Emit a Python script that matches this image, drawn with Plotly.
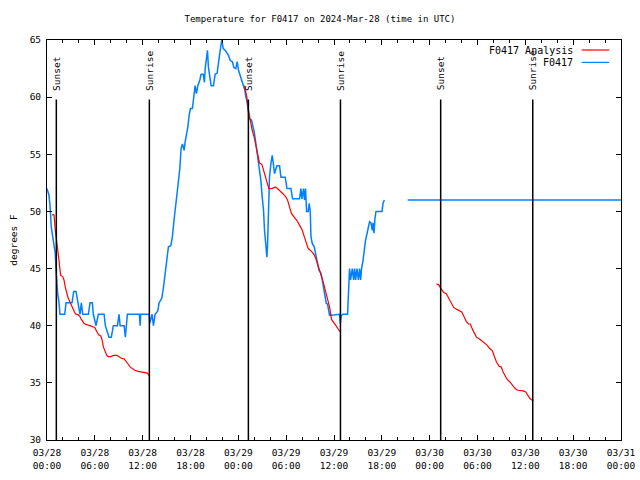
import pandas as pd
import plotly.graph_objects as go

BASE = pd.Timestamp("2024-03-28 00:00")

# F0417 observations: hours since 2024-03-28 00:00 UTC, temperature (deg F)
obs_hours = [0.00, 0.25, 0.38, 0.54, 0.72, 0.88, 1.04, 1.13, 1.22, 1.34, 1.51, 1.63, 2.22, 2.39, 3.14,
             3.35, 3.64, 3.80, 3.98, 4.14, 4.31, 4.48, 5.19, 5.40, 5.69, 5.81, 6.15, 6.44, 7.16, 7.32,
             7.78, 8.07, 8.32, 8.83, 9.04, 9.17, 9.67, 9.83, 10.08, 11.59, 11.68, 11.76, 12.81, 12.89,
             13.18, 13.35, 13.56, 13.90, 14.06, 14.40, 14.60, 14.81, 15.03, 15.23, 15.53, 15.73, 15.91,
             16.07, 16.28, 16.48, 16.66, 16.82, 16.99, 17.20, 17.33, 17.49, 17.67, 17.83, 17.99, 18.24,
             18.42, 18.58, 18.74, 18.92, 19.17, 19.33, 19.59, 19.75, 19.84, 20.00, 20.13, 20.25, 20.38,
             20.59, 20.88, 21.09, 21.34, 21.51, 21.72, 21.93, 22.10, 22.35, 22.76, 22.98, 23.26, 23.44,
             23.69, 23.85, 24.02, 24.23, 24.45, 24.65, 24.82, 24.95, 25.07, 25.24, 25.40, 25.65, 25.83,
             25.99, 26.15, 26.33, 26.49, 26.65, 26.83, 26.99, 27.16, 27.28, 27.46, 27.58, 27.66, 27.78,
             27.91, 28.09, 28.25, 28.37, 28.54, 28.66, 28.84, 29.17, 29.34, 29.88, 30.10, 30.60, 30.80,
             31.68, 31.85, 31.98, 32.18, 32.30, 32.43, 32.56, 32.77, 32.89, 33.02, 33.11, 33.27, 33.52,
             33.77, 33.94, 34.11, 34.36, 34.53, 34.69, 34.87, 35.03, 35.19, 35.44, 36.70, 36.79, 36.91,
             37.12, 37.70, 37.75, 37.88, 37.95, 38.08, 38.17, 38.29, 38.46, 38.58, 38.71, 38.88, 39.05,
             39.21, 39.34, 39.46, 39.64, 39.80, 39.96, 40.14, 40.30, 40.46, 40.64, 40.80, 40.89, 41.02,
             41.14, 41.27, 42.02, 42.15, 42.31, None, 45.24, 72.00]
obs_temp = [52.0, 51.4, 50.5, 48.6, 47.8, 47.2, 46.3, 44.9, 43.5, 42.8, 42.0, 41.0, 41.0, 42.0, 42.0,
            43.0, 43.0, 42.4, 41.4, 41.0, 42.0, 41.0, 41.0, 42.0, 42.0, 41.0, 40.0, 41.0, 41.0, 40.0,
            39.0, 39.0, 40.0, 40.0, 41.0, 40.0, 40.0, 39.0, 41.0, 41.0, 40.0, 41.0, 41.0, 40.2,
            41.0, 40.0, 41.0, 41.3, 42.0, 42.4, 43.3, 44.4, 45.6, 46.9, 47.0, 47.8, 49.1,
            50.25, 51.4, 52.6, 53.75, 55.5, 55.9, 55.35, 56.1, 56.7, 57.4, 58.4, 59.0, 59.0,
            60.0, 61.0, 60.3, 61.0, 61.5, 62.0, 62.0, 61.3, 62.5, 63.5, 64.1, 62.6, 61.9,
            61.0, 61.0, 62.0, 62.1, 63.1, 64.1, 65.0, 64.25, 64.1, 63.65, 63.2, 63.1, 62.6,
            62.5, 63.1, 62.35, 61.9, 61.4, 61.0, 60.6, 60.0, 59.7, 58.85, 58.1, 58.0, 57.5,
            56.95, 56.2, 55.35, 54.5, 53.6, 52.7, 51.3, 50.1, 48.4, 47.2, 46.0, 46.9, 50.7,
            53.0, 54.2, 54.9, 54.3, 53.3, 53.6, 54.0, 54.0, 53.0, 53.0, 52.0, 52.0, 51.1,
            51.1, 52.0, 51.1, 52.0, 51.0, 52.0, 50.0, 50.0, 50.7, 50.0, 47.8, 47.2, 46.9,
            46.2, 45.45, 44.85, 44.6, 44.0, 43.4, 42.5, 41.95, 41.9, 40.9, 41.0, 40.2, 40.9,
            41.0, 41.0, 42.0, 44.0, 45.0, 44.0, 44.6, 45.0, 44.0, 45.0, 44.0, 45.0, 44.0,
            45.0, 44.0, 45.0, 45.7, 46.75, 47.5, 48.05, 48.65, 49.1, 49.0, 48.35, 49.0, 48.1,
            49.4, 50.0, 50.0, 50.7, 51.0, None, 51.0, 51.0]

# F0417 Analysis (night-time segments)
ana_hours = [0.63, 0.88, 1.04, 1.22, 1.34, 1.51, 1.63, 1.72, 1.97, 2.13, 2.30, 2.47, 2.64, 2.80, 2.98,
             3.14, 3.30, 3.55, 3.93, 4.14, 4.31, 4.48, 4.65, 4.98, 5.31, 5.65, 5.99, 6.24, 6.49, 6.74,
             6.91, 7.07, 7.28, 7.50, 7.66, 8.00, 8.32, 8.75, 9.00, 9.33, 9.67, 9.92, 10.17, 10.42,
             10.67, 11.01, 11.43, 11.93, 12.34, 12.59, 12.84, None,
             24.77, 25.07, 25.27, 25.49, 25.74, 25.99, 26.24, 26.45, 26.65, 26.96, 27.16, 27.37, 27.58,
             27.83, 28.21, 28.63, 28.91, 29.25, 29.59, 29.92, 30.17, 30.42, 30.67, 31.01, 31.35, 31.68,
             32.02, 32.27, 32.52, 32.77, 33.11, 33.43, 33.69, 33.94, 34.19, 34.44, 34.69, 34.94, 35.19,
             35.44, 35.69, 36.03, 36.37, 36.79, None,
             48.84, 49.13, 49.43, 49.76, 50.09, 50.38, 50.69, 51.01, 51.35, 51.69, 52.02, 52.27, 52.61,
             52.86, 53.11, 53.36, 53.61, 53.86, 54.20, 54.53, 54.87, 55.20, 55.53, 55.87, 56.12, 56.37,
             56.71, 56.96, 57.21, 57.46, 57.72, 58.04, 58.38, 58.72, 59.05, 59.39, 59.72, 60.05, 60.30,
             60.56, 60.80, 61.06]
ana_temp = [49.7, 49.7, 48.35, 47.5, 46.6, 45.7, 44.9, 44.4, 44.3, 44.0, 43.35, 42.8, 42.45, 42.2, 41.95,
            41.65, 41.4, 41.05, 40.95, 40.8, 40.55, 40.3, 40.2, 40.1, 40.0, 39.9, 39.85, 39.5, 39.2, 39.1,
            38.75, 38.15, 37.7, 37.4, 37.3, 37.3, 37.4, 37.4, 37.3, 37.15, 37.1, 36.9, 36.65, 36.4,
            36.25, 36.1, 36.0, 35.95, 35.9, 35.85, 35.6, None,
            61.0, 60.0, 58.85, 58.0, 57.1, 56.5, 55.6, 54.75, 54.25, 54.1, 53.6, 53.0, 52.5,
            52.0, 52.0, 52.15, 52.0, 51.8, 51.55, 51.3, 51.0, 50.4, 49.8, 49.5, 49.2, 48.8,
            48.35, 47.8, 47.2, 46.75, 46.55, 46.3, 45.95, 45.45, 44.85, 44.3, 43.7, 42.95, 42.2,
            41.65, 40.55, 40.2, 39.9, 39.45, None,
            43.65, 43.6, 43.25, 42.9, 42.8, 42.4, 41.9, 41.6, 41.45, 41.3, 41.2, 40.85, 40.35,
            40.15, 40.15, 39.7, 39.3, 39.0, 38.85, 38.65, 38.45, 38.3, 38.0, 37.8, 37.3, 36.85,
            36.45, 36.4, 35.95, 35.6, 35.3, 35.1, 34.8, 34.5, 34.35, 34.35, 34.3, 34.2, 33.9,
            33.65, 33.5, 33.5]

sun_hours = [1.17, 12.84, 25.26, 36.81, 49.38, 60.93]
sun_labels = ["Sunset", "Sunrise", "Sunset", "Sunrise", "Sunset", "Sunrise"]
sun_line_top = 59.8
sun_label_base = 60.4

tick_hours = [0, 6, 12, 18, 24, 30, 36, 42, 48, 54, 60, 66, 72]
tick_labels = ["03/28<br>00:00", "03/28<br>06:00", "03/28<br>12:00", "03/28<br>18:00",
               "03/29<br>00:00", "03/29<br>06:00", "03/29<br>12:00", "03/29<br>18:00",
               "03/30<br>00:00", "03/30<br>06:00", "03/30<br>12:00", "03/30<br>18:00",
               "03/31<br>00:00"]


def to_time(hours):
    return [None if h is None else BASE + pd.Timedelta(hours=h) for h in hours]


FONT = "DejaVu Sans Mono"
BLUE = "#0080ff"
RED = "#ff0000"

W, H = 640, 480

fig = go.Figure()
fig.add_trace(go.Scatter(x=to_time(obs_hours), y=obs_temp, mode="lines", name="F0417",
                         line=dict(color=BLUE, width=1.5), connectgaps=False, showlegend=False))
fig.add_trace(go.Scatter(x=to_time(ana_hours), y=ana_temp, mode="lines", name="F0417 Analysis",
                         line=dict(color=RED, width=1.2), connectgaps=False, showlegend=False))

sun_times = to_time(sun_hours)
for t, lab in zip(sun_times, sun_labels):
    fig.add_shape(type="line", xref="x", yref="y", x0=t, x1=t, y0=30, y1=sun_line_top,
                  line=dict(color="black", width=1.5))
    fig.add_annotation(x=t, y=sun_label_base, xref="x", yref="y", text=lab, textangle=-90,
                       showarrow=False, xanchor="center", yanchor="bottom",
                       font=dict(family=FONT, size=9.5, color="black"))

# legend (text left of sample line, gnuplot style)
legend_items = [("F0417 Analysis", RED, 0.975), ("F0417", BLUE, 0.944)]
for name, col, yy in legend_items:
    fig.add_annotation(x=0.919, y=yy, xref="paper", yref="paper", text=name, showarrow=False,
                       xanchor="right", yanchor="middle", font=dict(family=FONT, size=10, color="black"))
    fig.add_shape(type="line", xref="paper", yref="paper", x0=0.9315, x1=0.9796, y0=yy, y1=yy,
                  line=dict(color=col, width=1.2))

fig.update_layout(
    width=W, height=H, autosize=False,
    margin=dict(l=47, r=19, t=40, b=40),
    paper_bgcolor="white", plot_bgcolor="white",
    font=dict(family=FONT, size=9.5, color="black"),
    title=dict(text="Temperature for F0417 on 2024-Mar-28 (time in UTC)", x=0.5, xanchor="center",
               y=1 - 19 / H, yanchor="middle", font=dict(family=FONT, size=9, color="black")),
    showlegend=False,
)
fig.update_xaxes(
    range=[BASE, BASE + pd.Timedelta(hours=72)],
    tickmode="array", tickvals=to_time(tick_hours), ticktext=tick_labels,
    ticks="inside", ticklen=5, tickcolor="black", tickwidth=1,
    minor=dict(tickmode="linear", tick0=BASE, dtick=2 * 3600 * 1000, ticks="inside", ticklen=3,
               tickcolor="black", tickwidth=1, showgrid=False),
    showline=True, linecolor="black", linewidth=1, mirror="ticks",
    showgrid=False, zeroline=False, tickfont=dict(family=FONT, size=9.5),
    ticklabelstandoff=4, ticklabeloverflow="allow", automargin=False,
)
fig.update_yaxes(
    range=[30, 65], tickmode="linear", tick0=30, dtick=5,
    ticks="inside", ticklen=5, tickcolor="black", tickwidth=1,
    showline=True, linecolor="black", linewidth=1, mirror="ticks",
    showgrid=False, zeroline=False, tickfont=dict(family=FONT, size=9.5),
    ticklabelstandoff=3, automargin=False,
    title=dict(text="degrees F", standoff=10, font=dict(family=FONT, size=9.5)),
)

# remove the default page margin so the 640x480 figure fills the window exactly
fig.write_html("out.html", config={"displayModeBar": False},
               post_script="document.body.style.margin='0';document.body.style.overflow='hidden';")
